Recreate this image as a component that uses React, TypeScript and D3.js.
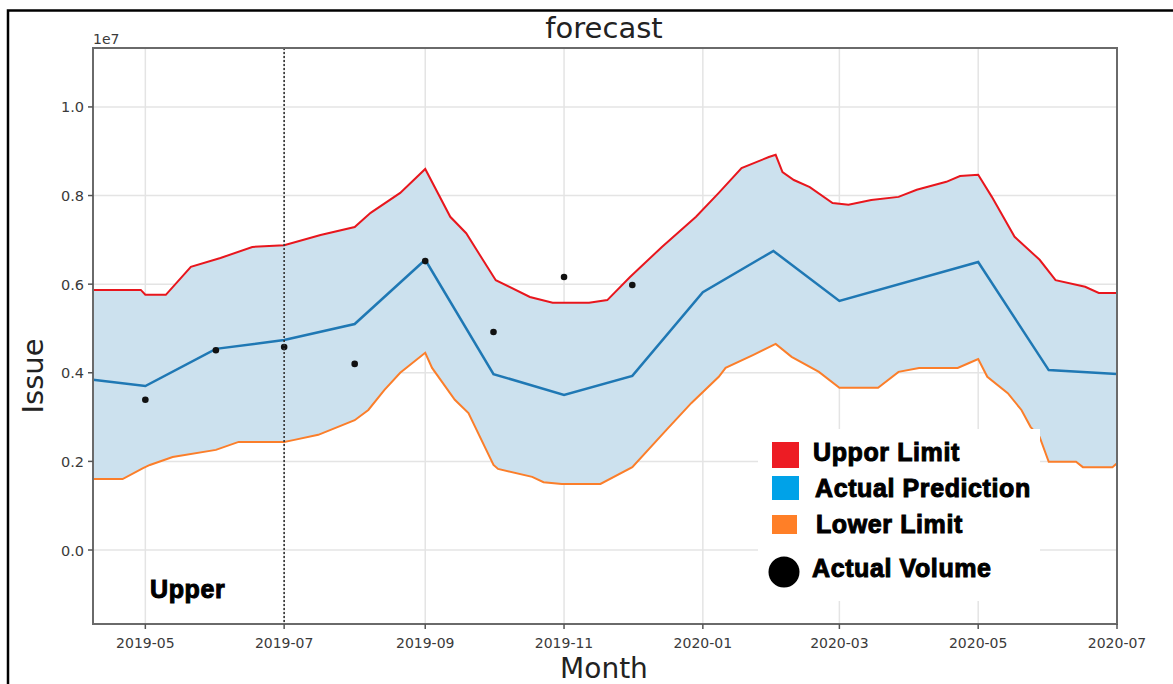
import React from "react";
import * as d3 from "d3";

// Forecast band (daily) and monthly prediction / actual volumes
const parse = d3.timeParse("%Y-%m-%d");

const upperLimit: [string, number][] = [
  ["2019-04-08", 5.87e6], ["2019-04-29", 5.87e6], ["2019-05-01", 5.76e6], ["2019-05-10", 5.76e6],
  ["2019-05-21", 6.39e6], ["2019-06-03", 6.59e6], ["2019-06-17", 6.84e6], ["2019-07-01", 6.88e6],
  ["2019-07-17", 7.11e6], ["2019-08-01", 7.29e6], ["2019-08-08", 7.61e6], ["2019-08-21", 8.06e6],
  ["2019-09-01", 8.6e6], ["2019-09-12", 7.52e6], ["2019-09-19", 7.15e6], ["2019-09-25", 6.66e6],
  ["2019-10-02", 6.09e6], ["2019-10-17", 5.71e6], ["2019-10-27", 5.58e6], ["2019-11-12", 5.58e6],
  ["2019-11-20", 5.64e6], ["2019-11-30", 6.16e6], ["2019-12-14", 6.84e6], ["2019-12-29", 7.52e6],
  ["2020-01-08", 8.06e6], ["2020-01-18", 8.62e6], ["2020-01-30", 8.87e6], ["2020-02-02", 8.92e6],
  ["2020-02-05", 8.53e6], ["2020-02-10", 8.35e6], ["2020-02-17", 8.19e6], ["2020-02-27", 7.83e6],
  ["2020-03-05", 7.79e6], ["2020-03-15", 7.9e6], ["2020-03-27", 7.97e6], ["2020-04-04", 8.13e6],
  ["2020-04-17", 8.31e6], ["2020-04-23", 8.44e6], ["2020-05-01", 8.47e6], ["2020-05-07", 7.97e6],
  ["2020-05-17", 7.07e6], ["2020-05-28", 6.55e6], ["2020-06-04", 6.09e6], ["2020-06-17", 5.94e6],
  ["2020-06-23", 5.8e6], ["2020-07-01", 5.8e6],
];

const lowerLimit: [string, number][] = [
  ["2019-04-08", 1.6e6], ["2019-04-21", 1.6e6], ["2019-04-30", 1.85e6], ["2019-05-03", 1.92e6],
  ["2019-05-13", 2.1e6], ["2019-06-01", 2.26e6], ["2019-06-11", 2.44e6], ["2019-07-01", 2.44e6],
  ["2019-07-05", 2.48e6], ["2019-07-16", 2.6e6], ["2019-08-01", 2.93e6], ["2019-08-07", 3.16e6],
  ["2019-08-14", 3.61e6], ["2019-08-21", 4.0e6], ["2019-09-01", 4.45e6], ["2019-09-04", 4.11e6],
  ["2019-09-14", 3.39e6], ["2019-09-20", 3.09e6], ["2019-10-01", 1.92e6], ["2019-10-03", 1.83e6],
  ["2019-10-18", 1.65e6], ["2019-10-23", 1.53e6], ["2019-10-31", 1.49e6], ["2019-11-17", 1.49e6],
  ["2019-12-01", 1.87e6], ["2019-12-16", 2.71e6], ["2019-12-27", 3.32e6], ["2020-01-08", 3.91e6],
  ["2020-01-11", 4.11e6], ["2020-01-23", 4.4e6], ["2020-02-02", 4.65e6], ["2020-02-09", 4.36e6],
  ["2020-02-21", 4.02e6], ["2020-03-01", 3.66e6], ["2020-03-18", 3.66e6], ["2020-03-27", 4.02e6],
  ["2020-04-05", 4.11e6], ["2020-04-22", 4.11e6], ["2020-04-27", 4.22e6], ["2020-05-01", 4.31e6],
  ["2020-05-05", 3.91e6], ["2020-05-14", 3.54e6], ["2020-05-20", 3.16e6], ["2020-05-24", 2.78e6],
  ["2020-05-28", 2.55e6], ["2020-06-01", 1.99e6], ["2020-06-13", 1.99e6], ["2020-06-16", 1.87e6],
  ["2020-06-29", 1.87e6], ["2020-07-01", 1.96e6],
];

const prediction: [string, number][] = [
  ["2019-04-08", 3.84e6], ["2019-05-01", 3.7e6], ["2019-06-01", 4.54e6], ["2019-07-01", 4.74e6],
  ["2019-08-01", 5.1e6], ["2019-09-01", 6.55e6], ["2019-10-01", 3.97e6], ["2019-11-01", 3.5e6],
  ["2019-12-01", 3.93e6], ["2020-01-01", 5.82e6], ["2020-02-01", 6.75e6], ["2020-03-01", 5.62e6],
  ["2020-05-01", 6.5e6], ["2020-06-01", 4.06e6], ["2020-07-01", 3.97e6],
];

const actualVolume: [string, number][] = [
  ["2019-05-01", 3.39e6], ["2019-06-01", 4.51e6], ["2019-07-01", 4.58e6], ["2019-08-01", 4.2e6],
  ["2019-09-01", 6.52e6], ["2019-10-01", 4.92e6], ["2019-11-01", 6.16e6], ["2019-12-01", 5.98e6],
];

const yTicks = [0, 2e6, 4e6, 6e6, 8e6, 10e6];
const xTickMonths = ["2019-05-01", "2019-07-01", "2019-09-01", "2019-11-01", "2020-01-01", "2020-03-01", "2020-05-01", "2020-07-01"];
const cutoffDate = "2019-07-01";

const legendItems = [
  { label: "Uppor Limit", color: "#ed1c24", kind: "square" },
  { label: "Actual Prediction", color: "#00a2e8", kind: "square" },
  { label: "Lower Limit", color: "#ff7f27", kind: "square" },
  { label: "Actual Volume", color: "#000000", kind: "dot" },
];

const W = 1173;
const H = 684;
const M = { left: 93, right: 1117, top: 48, bottom: 624 };

export default function App() {
  const x = d3
    .scaleTime()
    .domain([parse("2019-04-08")!, parse("2020-07-01")!])
    .range([M.left, M.right]);
  const y = d3.scaleLinear().domain([-1.67e6, 11.33e6]).range([M.bottom, M.top]);

  const up = upperLimit.map(([d, v]) => ({ d: parse(d)!, v }));
  const lo = lowerLimit.map(([d, v]) => ({ d: parse(d)!, v }));
  const pred = prediction.map(([d, v]) => ({ d: parse(d)!, v }));
  const act = actualVolume.map(([d, v]) => ({ d: parse(d)!, v }));

  // band between lower and upper, sampled on the union of dates
  const allDates = Array.from(new Set([...up, ...lo].map((p) => +p.d))).sort((a, b) => a - b);
  const interp = (arr: { d: Date; v: number }[], t: number) => {
    const s = d3.scaleTime().domain(arr.map((p) => p.d)).range(arr.map((p) => p.v));
    return s(new Date(t));
  };
  const band = allDates.map((t) => ({ d: new Date(t), hi: interp(up, t), lo: interp(lo, t) }));

  const area = d3
    .area<{ d: Date; hi: number; lo: number }>()
    .x((p) => x(p.d))
    .y0((p) => y(p.lo))
    .y1((p) => y(p.hi));
  const line = d3
    .line<{ d: Date; v: number }>()
    .x((p) => x(p.d))
    .y((p) => y(p.v));

  const xTicks = xTickMonths.map((s) => parse(s)!);
  const fmt = d3.timeFormat("%Y-%m");
  const cutX = x(parse(cutoffDate)!);

  const tickFont = "DejaVu Sans, sans-serif";
  const legendFont = "Liberation Sans, Arial, sans-serif";

  return (
    <svg
      width={W}
      height={H}
      style={{ position: "absolute", left: 0, top: 0, background: "#fff" }}
    >
      <rect x={8} y={10.5} width={1200} height={720} fill="none" stroke="#000" strokeWidth={2.5} />

      {/* grid */}
      <g stroke="#e4e4e4" strokeWidth={1.5}>
        {yTicks.map((t) => (
          <line key={t} x1={M.left} x2={M.right} y1={y(t)} y2={y(t)} />
        ))}
        {xTicks.map((t) => (
          <line key={+t} x1={x(t)} x2={x(t)} y1={M.top} y2={M.bottom} />
        ))}
      </g>

      {/* uncertainty band */}
      <path d={area(band)!} fill="#cce1ee" />

      {/* limits and prediction */}
      <path d={line(up)!} fill="none" stroke="#e8161d" strokeWidth={2} />
      <path d={line(lo)!} fill="none" stroke="#fb7e2a" strokeWidth={2} />
      <path d={line(pred)!} fill="none" stroke="#1f78b4" strokeWidth={2.5} />

      {/* actual volume */}
      {act.map((p) => (
        <circle key={+p.d} cx={x(p.d)} cy={y(p.v)} r={3.3} fill="#111" />
      ))}

      {/* forecast cutoff */}
      <line
        x1={cutX}
        x2={cutX}
        y1={M.top}
        y2={M.bottom}
        stroke="#333"
        strokeWidth={1.6}
        strokeDasharray="2,2"
      />

      {/* spines */}
      <rect
        x={M.left}
        y={M.top}
        width={M.right - M.left}
        height={M.bottom - M.top}
        fill="none"
        stroke="#6a6a6a"
        strokeWidth={2}
      />

      {/* y axis */}
      <g fontFamily={tickFont} fontSize={14.5} fill="#3a3a3a">
        {yTicks.map((t) => (
          <g key={t}>
            <line x1={M.left - 5} x2={M.left} y1={y(t)} y2={y(t)} stroke="#555" strokeWidth={1.5} />
            <text x={M.left - 9} y={y(t) + 5.5} textAnchor="end">
              {(t / 1e7).toFixed(1)}
            </text>
          </g>
        ))}
        <text x={M.left} y={44} fontSize={14}>1e7</text>
      </g>

      {/* x axis */}
      <g fontFamily={tickFont} fontSize={14} fill="#3a3a3a">
        {xTicks.map((t) => (
          <g key={+t}>
            <line x1={x(t)} x2={x(t)} y1={M.bottom} y2={M.bottom + 5} stroke="#555" strokeWidth={1.5} />
            <text x={x(t)} y={647.5} textAnchor="middle">
              {fmt(t)}
            </text>
          </g>
        ))}
      </g>

      {/* titles */}
      <text x={604} y={38} textAnchor="middle" fontFamily={tickFont} fontSize={29} fill="#222">
        forecast
      </text>
      <text x={604} y={677.5} textAnchor="middle" fontFamily={tickFont} fontSize={28} fill="#222">
        Month
      </text>
      <text
        transform="translate(43,376) rotate(-90)"
        textAnchor="middle"
        fontFamily={tickFont}
        fontSize={29}
        fill="#222"
      >
        Issue
      </text>

      {/* annotation */}
      <text
        x={150}
        y={598}
        fontFamily={legendFont}
        fontWeight="bold"
        fontSize={25}
        letterSpacing={0.6}
        fill="#000"
        stroke="#000"
        strokeWidth={1}
      >
        Upper
      </text>

      {/* legend */}
      <rect x={758} y={429} width={282} height={172} fill="#fff" />
      {legendItems.map((it, i) => {
        const rows = [
          { box: [772, 442, 27, 26], tx: 813, ty: 461 },
          { box: [772, 476, 27, 24], tx: 815, ty: 497 },
          { box: [772, 515, 25, 19], tx: 816, ty: 533 },
          { box: [768, 556, 32, 32], tx: 812, ty: 577 },
        ];
        const r = rows[i];
        return (
          <g key={it.label}>
            {it.kind === "square" ? (
              <rect x={r.box[0]} y={r.box[1]} width={r.box[2]} height={r.box[3]} fill={it.color} />
            ) : (
              <circle cx={r.box[0] + 16} cy={r.box[1] + 16} r={15.5} fill={it.color} />
            )}
            <text
              x={r.tx}
              y={r.ty}
              fontFamily={legendFont}
              fontWeight="bold"
              fontSize={25}
              letterSpacing={0.6}
              fill="#000"
              stroke="#000"
              strokeWidth={1}
            >
              {it.label}
            </text>
          </g>
        );
      })}
    </svg>
  );
}
